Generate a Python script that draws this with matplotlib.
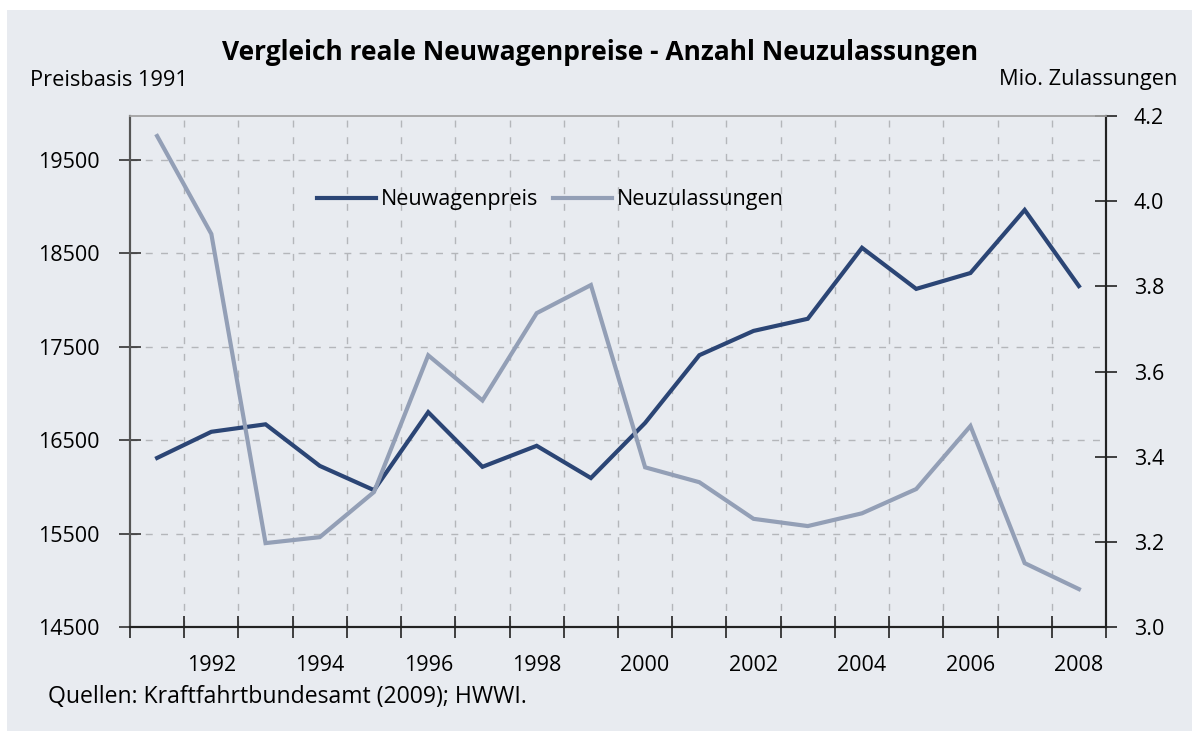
import numpy as np
import matplotlib
matplotlib.use("Agg")
import matplotlib.pyplot as plt
from matplotlib.patches import Rectangle

plt.rcParams['font.family'] = ['Open Sans', 'DejaVu Sans']

# Data
years = list(range(1991, 2009))
preis = [16310, 16590, 16670, 16225, 15965, 16800, 16215, 16440, 16095,
         16685, 17410, 17670, 17800, 18560, 18120, 18290, 18965, 18150]
zulassungen = [4.153, 3.923, 3.197, 3.211, 3.317, 3.638, 3.532, 3.737, 3.803,
               3.375, 3.340, 3.254, 3.237, 3.267, 3.324, 3.472, 3.150, 3.089]

left_ticks = [14500, 15500, 16500, 17500, 18500, 19500]
right_ticks = [3.0, 3.2, 3.4, 3.6, 3.8, 4.0, 4.2]

bg = '#E8EBF0'
dark = '#2B4575'
light = '#939FB6'
grid_col = '#B4B6BA'

fig = plt.figure(figsize=(11.92, 7.31), dpi=100)
fig.patch.set_facecolor('white')
fig.patches.append(Rectangle((7 / 1192, 0), 1 - 7 / 1192, 1 - 10 / 731,
                             transform=fig.transFigure, facecolor=bg,
                             edgecolor='none', zorder=-10))

ax = fig.add_axes([130 / 1192, (731 - 627) / 731, 976 / 1192, 511 / 731])
ax.set_facecolor(bg)
x = np.arange(len(years))

ax.set_xlim(-0.5, len(years) - 0.5)
ax.set_ylim(14500, 19971)

# grid
for yv in left_ticks[1:]:
    ax.axhline(yv, color=grid_col, lw=1, ls=(0, (5, 6)), zorder=1)
for xb in np.arange(0.5, len(years) - 0.5, 1):
    ax.axvline(xb, color=grid_col, lw=1, ls=(0, (5, 7)), zorder=1)

ax2 = ax.twinx()
ax2.set_ylim(3.0, 4.2)

l1, = ax.plot(x, preis, color=dark, lw=3, zorder=5, solid_joinstyle='miter',
              label='Neuwagenpreis')
l2, = ax2.plot(x, zulassungen, color=light, lw=3, zorder=5,
               solid_joinstyle='miter', label='Neuzulassungen')

# axes styling
ax.set_yticks(left_ticks)
ax.set_yticklabels([str(v) for v in left_ticks])
ax.tick_params(axis='y', direction='inout', length=16, width=1.2, pad=14,
               labelsize=15.5, color='#333333')
ax.set_xticks(np.arange(-0.5, len(years) + 0.5, 1))
ax.set_xticklabels([])
ax.tick_params(axis='x', which='major', direction='inout', length=16,
               width=1.2, color='#222222')
ax.set_xticks(x[1::2], minor=True)
ax.set_xticklabels([str(y) for y in years[1::2]], minor=True)
ax.tick_params(axis='x', which='minor', length=0, pad=20, labelsize=15.5)

ax2.set_yticks(right_ticks)
ax2.set_yticklabels([f'{v:.1f}' for v in right_ticks])
ax2.tick_params(axis='y', direction='inout', length=16, width=1.2, pad=12,
                labelsize=15.5, color='#222222')

for a in (ax, ax2):
    a.spines['top'].set_color('#A8A8A8')
    a.spines['top'].set_linewidth(1.2)
    a.spines['left'].set_color('#555555')
    a.spines['left'].set_linewidth(1.5)
    a.spines['right'].set_color('#222222')
    a.spines['right'].set_linewidth(1.5)
    a.spines['bottom'].set_color('#222222')
    a.spines['bottom'].set_linewidth(1.5)

ax.legend(handles=[l1, l2], loc='center', bbox_to_anchor=(0.431, 0.836),
          ncol=2, frameon=False, fontsize=15.5, handlelength=2.7,
          handletextpad=0.25, columnspacing=0.7)

fig.text(600 / 1192, 1 - 52 / 731,
         'Vergleich reale Neuwagenpreise - Anzahl Neuzulassungen',
         ha='center', va='center', fontsize=19, fontweight='bold')
fig.text(30 / 1192, 1 - 80 / 731, 'Preisbasis 1991', ha='left', va='center',
         fontsize=15.7)
fig.text(1177 / 1192, 1 - 80 / 731, 'Mio. Zulassungen', ha='right',
         va='center', fontsize=15.7)
fig.text(48 / 1192, 1 - 697 / 731,
         'Quellen: Kraftfahrtbundesamt (2009); HWWI.', ha='left',
         va='center', fontsize=16.6)

fig.savefig('out.png', dpi=100, facecolor=fig.get_facecolor())
